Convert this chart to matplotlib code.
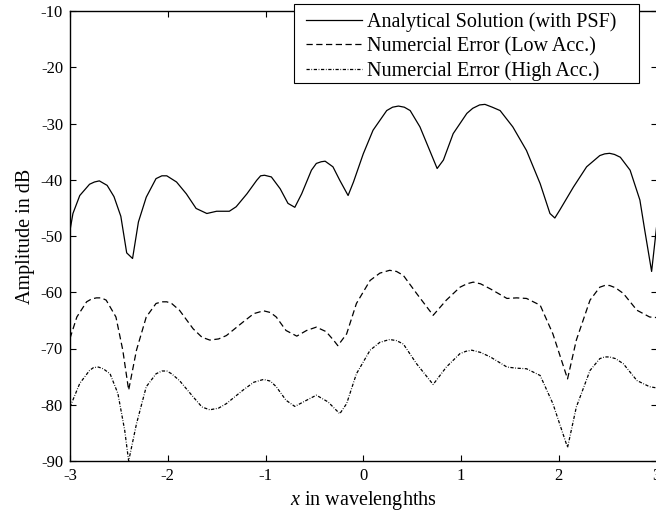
import numpy as np
import matplotlib
matplotlib.use("Agg")
import matplotlib.pyplot as plt
from matplotlib.patches import Rectangle, Shadow

plt.rcParams['font.family'] = ['Liberation Serif', 'DejaVu Serif']
plt.rcParams['mathtext.fontset'] = 'custom'
plt.rcParams['mathtext.rm'] = 'Liberation Serif'
plt.rcParams['mathtext.it'] = 'Liberation Serif:italic'
plt.rcParams['axes.unicode_minus'] = False

# analytical solution (with PSF)
x_ana = [-3.0, -2.97, -2.90, -2.80, -2.75, -2.70, -2.62, -2.55, -2.48, -2.42,
         -2.36, -2.30, -2.22, -2.12, -2.06, -2.01, -1.91, -1.81, -1.71, -1.60,
         -1.50, -1.37, -1.30, -1.19, -1.09, -1.05, -1.01, -0.94, -0.85, -0.77,
         -0.70, -0.63, -0.53, -0.48, -0.43, -0.39, -0.31, -0.24, -0.155, -0.10,
         0.0, 0.10, 0.24, 0.30, 0.36, 0.42, 0.48, 0.58, 0.68, 0.756,
         0.82, 0.92, 1.06, 1.12, 1.19, 1.245, 1.32, 1.40, 1.53, 1.67,
         1.81, 1.91, 1.96, 2.01, 2.15, 2.285, 2.42, 2.47, 2.52, 2.57,
         2.63, 2.73, 2.83, 2.88, 2.95, 3.0]
y_ana = [-49.0, -46.0, -42.8, -40.8, -40.4, -40.2, -41.0, -43.0, -46.5, -53.0,
         -54.0, -47.5, -43.1, -39.8, -39.3, -39.3, -40.4, -42.5, -45.1, -46.0,
         -45.6, -45.6, -44.8, -42.5, -40.1, -39.3, -39.2, -39.5, -41.6, -44.2,
         -44.9, -42.5, -38.3, -37.1, -36.8, -36.7, -37.7, -40.1, -42.8, -40.4,
         -35.4, -31.2, -27.7, -27.1, -26.9, -27.1, -27.7, -30.6, -34.8, -38.0,
         -36.5, -31.8, -28.2, -27.3, -26.7, -26.6, -27.1, -27.7, -30.6, -34.8,
         -40.7, -46.0, -46.8, -45.4, -41.3, -37.7, -35.7, -35.4, -35.3, -35.5,
         -36.0, -38.3, -43.6, -49.0, -56.3, -48.5]

# numerical error, low accuracy
x_low = [-3.0, -2.93, -2.83, -2.78, -2.73, -2.68, -2.63, -2.53, -2.46, -2.40,
         -2.32, -2.22, -2.12, -2.06, -2.01, -1.96, -1.88, -1.74, -1.65, -1.57,
         -1.48, -1.40, -1.23, -1.12, -1.02, -0.95, -0.89, -0.79, -0.68, -0.58,
         -0.48, -0.38, -0.30, -0.26, -0.17, -0.07, 0.07, 0.17, 0.27, 0.34,
         0.41, 0.545, 0.715, 0.85, 0.99, 1.06, 1.125, 1.20, 1.30, 1.47,
         1.57, 1.67, 1.81, 1.94, 2.09, 2.18, 2.32, 2.42, 2.47, 2.52,
         2.58, 2.66, 2.80, 2.93, 3.0]
y_low = [-68.2, -64.4, -61.7, -61.2, -61.0, -61.0, -61.4, -64.4, -70.3, -77.4,
         -70.3, -64.4, -62.0, -61.7, -61.7, -62.0, -63.2, -66.5, -68.0, -68.5,
         -68.3, -67.7, -65.3, -63.8, -63.3, -63.6, -64.4, -66.8, -67.8, -66.8,
         -66.2, -67.0, -68.6, -69.5, -67.4, -62.0, -57.9, -56.6, -56.1, -56.3,
         -57.0, -60.2, -64.1, -61.4, -59.1, -58.5, -58.2, -58.5, -59.4, -61.1,
         -61.0, -61.1, -62.3, -67.4, -75.4, -68.5, -61.4, -59.1, -58.8, -58.8,
         -59.2, -60.2, -63.2, -64.4, -64.5]

# numerical error, high accuracy
x_high = [-3.0, -2.90, -2.80, -2.76, -2.71, -2.66, -2.59, -2.51, -2.44, -2.40,
          -2.32, -2.22, -2.12, -2.06, -2.01, -1.96, -1.88, -1.74, -1.65, -1.57,
          -1.48, -1.40, -1.23, -1.12, -1.02, -0.95, -0.89, -0.79, -0.70, -0.58,
          -0.48, -0.36, -0.24, -0.17, -0.07, 0.07, 0.17, 0.27, 0.34, 0.41,
          0.545, 0.715, 0.85, 0.99, 1.05, 1.11, 1.20, 1.30, 1.47, 1.57,
          1.67, 1.81, 1.94, 2.09, 2.18, 2.32, 2.42, 2.47, 2.52, 2.58,
          2.66, 2.80, 2.93, 3.0]
y_high = [-80.4, -76.2, -73.9, -73.4, -73.3, -73.6, -74.5, -78.0, -84.6, -90.0,
          -83.4, -76.8, -74.5, -74.0, -74.0, -74.5, -75.7, -78.6, -80.4, -80.9,
          -80.6, -79.8, -77.4, -76.0, -75.5, -75.8, -76.8, -79.2, -80.3, -79.2,
          -78.3, -79.5, -81.6, -79.8, -74.5, -70.3, -68.9, -68.4, -68.6, -69.2,
          -72.7, -76.4, -73.3, -70.9, -70.5, -70.3, -70.7, -71.5, -73.3, -73.5,
          -73.6, -74.8, -79.8, -87.6, -80.4, -73.9, -71.8, -71.5, -71.5, -71.8,
          -72.7, -75.7, -76.8, -77.0]

labels = ['Analytical Solution (with PSF)',
          'Numercial Error (Low Acc.)',
          'Numercial Error (High Acc.)']
xticks = [-3, -2, -1, 0, 1, 2, 3]
yticks = [-90, -80, -70, -60, -50, -40, -30, -20, -10]

W, H = 656, 512
fig = plt.figure(figsize=(W / 100, H / 100), dpi=100)
ax = fig.add_axes([70 / W, 51 / H, 586.5 / W, 450 / H])

lw = 0.9
ax.plot(x_ana, y_ana, color='k', lw=lw, ls='-', label=labels[0])
ax.plot(x_low, y_low, color='k', lw=lw, ls=(0, (5.0, 2.8)), label=labels[1])
ax.plot(x_high, y_high, color='k', lw=lw, ls=(0, (2.6, 1.3, 0.6, 1.3)), label=labels[2])

ax.set_xlim(-3, 3)
ax.set_ylim(-90, -10)
ax.set_xticks(xticks)
ax.set_yticks(yticks)
ax.tick_params(direction='in', length=4, width=0.8, top=True, right=True,
               labelsize=12, pad=5)
for s in ax.spines.values():
    s.set_linewidth(1.0)

ax.set_xlabel('$x$ in wavelenghths', fontsize=14.5, labelpad=4)
ax.set_ylabel('Amplitude in dB', fontsize=14.5, labelpad=4)

# legend box with a thin drop shadow, drawn above the axes
box = Rectangle((294 / W, 1 - 83 / H), 345 / W, 79 / H, transform=fig.transFigure,
                facecolor='w', edgecolor='k', lw=0.8, zorder=2)
shadow = Shadow(box, 0.8, -0.8, facecolor='k', edgecolor='none', zorder=1.9)
fig.add_artist(shadow)
fig.add_artist(box)

handles, _ = ax.get_legend_handles_labels()
leg = fig.legend(handles, labels, loc='upper left',
                 bbox_to_anchor=(294 / W, 1 - 0.3 / H), borderaxespad=0,
                 fontsize=14.5, handlelength=2.78, handletextpad=0.25,
                 labelspacing=0.25, borderpad=0.58, frameon=False)
leg.set_zorder(3)

fig.savefig('out.png', dpi=100)
